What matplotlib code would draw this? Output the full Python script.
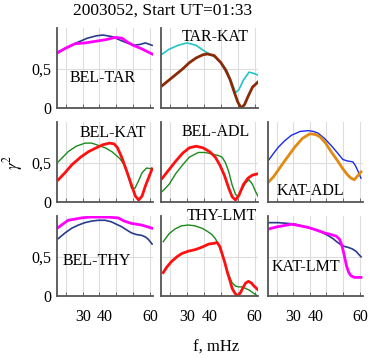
import numpy as np
import matplotlib.pyplot as plt

plt.rcParams['font.family'] = ['Liberation Serif', 'DejaVu Serif']
plt.rcParams['mathtext.fontset'] = 'stix'

# ---- data (f in mHz, gamma^2) ----
# BEL-TAR
beltar_navy_f = [19, 23, 27, 32, 36, 39, 43, 48, 52.5, 55.5, 58, 61]
beltar_navy_g = [0.72, 0.77, 0.83, 0.89, 0.92, 0.93, 0.91, 0.85, 0.80, 0.81, 0.83, 0.80]
beltar_mag_f = [19, 22, 26.5, 31, 35.5, 40, 44.5, 47.5, 50, 52.5, 56, 61]
beltar_mag_g = [0.71, 0.76, 0.82, 0.83, 0.85, 0.87, 0.90, 0.89, 0.84, 0.80, 0.76, 0.69]
# TAR-KAT
tarkat_cyan_f = [19, 22, 26, 30, 34, 38, 42, 45, 47.5, 49.5, 51.5, 53, 55, 57.5, 60, 61.6]
tarkat_cyan_g = [0.69, 0.75, 0.80, 0.83, 0.80, 0.72, 0.66, 0.58, 0.49, 0.35, 0.20, 0.24, 0.36, 0.46, 0.44, 0.42]
tarkat_brown_f = [19, 22, 25, 28, 31, 34, 37, 39, 42, 45, 47, 49, 51, 52.5, 54, 55.5, 57, 59, 62]
tarkat_brown_g = [0.29, 0.36, 0.43, 0.50, 0.58, 0.64, 0.68, 0.69, 0.67, 0.58, 0.49, 0.37, 0.20, 0.08, 0.005, 0.05, 0.15, 0.27, 0.35]
# BEL-KAT
belkat_green_f = [19, 23.4, 27, 31, 34, 37, 40, 43, 46.6, 48.5, 50, 51.8, 53.3, 55, 56.5, 58.5, 61]
belkat_green_g = [0.51, 0.64, 0.71, 0.75, 0.75, 0.72, 0.69, 0.64, 0.55, 0.47, 0.36, 0.17, 0.17, 0.27, 0.37, 0.43, 0.42]
belkat_red_f = [19, 22, 25, 29, 32.5, 36, 39, 42, 44, 45.5, 47.5, 49.5, 51.8, 53.5, 55, 56.5, 58, 59.5, 61]
belkat_red_g = [0.28, 0.37, 0.47, 0.57, 0.64, 0.69, 0.73, 0.75, 0.74, 0.69, 0.56, 0.40, 0.21, 0.07, 0.02, 0.07, 0.20, 0.31, 0.42]
# BEL-ADL
beladl_red_f = [19, 22, 25, 28, 31, 34, 37, 40, 42.5, 44.5, 46.5, 48.5, 50, 51.5, 53, 55, 57, 59, 62]
beladl_red_g = [0.30, 0.41, 0.52, 0.62, 0.69, 0.71, 0.69, 0.64, 0.57, 0.47, 0.34, 0.17, 0.06, 0.02, 0.08, 0.22, 0.30, 0.34, 0.36]
beladl_green_f = [19, 22, 25, 28, 31, 35, 38, 41, 44, 45.5, 47, 48.5, 50, 51.5, 52.5, 54, 56, 57.5, 59, 60.5, 62]
beladl_green_g = [0.13, 0.22, 0.36, 0.47, 0.57, 0.63, 0.63, 0.61, 0.59, 0.57, 0.50, 0.38, 0.21, 0.09, 0.07, 0.14, 0.24, 0.28, 0.22, 0.12, 0.04]
# KAT-ADL
katadl_blue_f = [18.7, 21, 23.2, 26, 29, 33, 36.6, 39, 41, 44, 47, 50, 52.3, 54.5, 56.8, 58, 59, 60.5]
katadl_blue_g = [0.53, 0.62, 0.70, 0.78, 0.85, 0.90, 0.91, 0.90, 0.88, 0.81, 0.72, 0.62, 0.54, 0.52, 0.51, 0.46, 0.40, 0.30]
katadl_orange_f = [18.7, 21, 24.7, 28, 30.6, 34, 37.4, 40, 42, 44.5, 47, 50, 52.3, 54.5, 56, 57.5, 59, 60.5]
katadl_orange_g = [0.25, 0.32, 0.47, 0.60, 0.70, 0.81, 0.87, 0.86, 0.83, 0.75, 0.64, 0.52, 0.42, 0.34, 0.30, 0.28, 0.33, 0.38]
# BEL-THY
belthy_mag_f = [19, 23.4, 29.4, 33, 36.9, 41, 45.8, 48.5, 51.8, 56.3, 61]
belthy_mag_g = [0.87, 0.96, 0.99, 1.0, 1.0, 1.0, 0.99, 0.95, 0.92, 0.90, 0.86]
belthy_navy_f = [19, 22, 25, 28, 30.9, 34, 36.9, 40, 42.8, 45, 47.3, 49.5, 51.8, 54, 56.3, 58, 59.3, 61]
belthy_navy_g = [0.73, 0.80, 0.86, 0.90, 0.93, 0.95, 0.96, 0.96, 0.94, 0.91, 0.88, 0.84, 0.80, 0.78, 0.77, 0.75, 0.72, 0.66]
# THY-LMT
thylmt_green_f = [19.4, 22, 24.6, 27.5, 30.6, 33.5, 36.6, 39, 41, 42.5, 44, 45.3, 46.3, 47.5, 48.5, 50, 51.5, 53, 54.5, 56, 57.5, 59.5, 61.6]
thylmt_green_g = [0.69, 0.79, 0.85, 0.89, 0.90, 0.89, 0.86, 0.82, 0.78, 0.73, 0.65, 0.55, 0.46, 0.35, 0.27, 0.17, 0.13, 0.12, 0.12, 0.10, 0.08, 0.04, 0.0]
thylmt_red_f = [19.4, 21, 23.1, 25.5, 27.6, 30.5, 33.6, 36.5, 39.6, 42, 43.3, 44.5, 45.5, 46.7, 47.8, 49, 50, 51, 52.2, 53.5, 55, 56, 57.2, 58.5, 59.7, 61.6]
thylmt_red_g = [0.30, 0.37, 0.44, 0.50, 0.54, 0.57, 0.59, 0.62, 0.66, 0.67, 0.68, 0.63, 0.54, 0.43, 0.31, 0.20, 0.10, 0.05, 0.005, 0.04, 0.12, 0.17, 0.19, 0.17, 0.13, 0.08]
# KAT-LMT
katlmt_navy_f = [18.7, 23, 27.7, 31, 35.1, 39, 42.6, 45.5, 47.8, 49.5, 51.5, 53, 54.5, 56.5, 58.2, 59.5, 60.5]
katlmt_navy_g = [0.93, 0.93, 0.92, 0.91, 0.88, 0.85, 0.81, 0.77, 0.73, 0.69, 0.65, 0.63, 0.62, 0.60, 0.57, 0.53, 0.50]
katlmt_mag_f = [18.7, 23, 29.1, 33, 36.6, 40, 44.1, 47, 49.3, 50.8, 51.8, 52.5, 53.3, 54, 55, 56, 57.5, 59, 60.5]
katlmt_mag_g = [0.85, 0.88, 0.91, 0.89, 0.87, 0.84, 0.80, 0.78, 0.76, 0.72, 0.65, 0.57, 0.47, 0.38, 0.30, 0.26, 0.24, 0.24, 0.24]

NAVY = '#283c8c'
MAG = '#ff00ff'
CYAN = '#22c4c8'
BROWN = '#8b2a06'
GREEN = '#1b8a1b'
RED = '#ff1010'
BLUE = '#1a2af0'
ORANGE = '#e08a10'
THICK = 2.0
THIN = 1.0

fig = plt.figure(figsize=(3.7, 3.58), dpi=100)

cols = [0.154, 0.435, 0.724]
widths = [0.2595, 0.262, 0.257]
rows = [0.697, 0.437, 0.172]
heights = [0.225, 0.222, 0.226]

gridpos = np.arange(22.4, 61, 7.5)


def make_ax(r, c):
    ax = fig.add_axes([cols[c], rows[r], widths[c], heights[r]])
    ax.set_xlim(18.4, 61.4)
    ax.set_ylim(0, 1.02)
    for s in ['top', 'right']:
        ax.spines[s].set_visible(False)
    for s in ['left', 'bottom']:
        ax.spines[s].set_color('#555555')
        ax.spines[s].set_linewidth(1.3)
    ax.set_xticks(gridpos, minor=True)
    ax.set_xticks([30, 40, 60])
    ax.set_yticks([0, 0.5])
    ax.grid(True, which='minor', axis='x', color='#dddddd', lw=0.8)
    ax.axhline(0.5, color='#dddddd', lw=0.8, zorder=0)
    ax.tick_params(which='major', length=0, labelsize=11.5, pad=4)
    ax.tick_params(which='minor', direction='in', length=3, color='#555555')
    ax.tick_params(axis='y', which='minor', length=0)
    if c == 0:
        ax.set_yticklabels(['0', '0,5'])
    else:
        ax.set_yticklabels([])
    if r == 2:
        ax.set_xticklabels(['30', '40', '60'])
        ax.tick_params(axis='x', pad=9)
    else:
        ax.set_xticklabels([])
    ax.set_axisbelow(True)
    return ax


def label(ax, txt, x, y):
    ax.text(x, y, txt, transform=ax.transAxes, ha='center', va='center', fontsize=11.5)


ax = make_ax(0, 0)
ax.plot(beltar_navy_f, beltar_navy_g, color=NAVY, lw=THIN + 0.2)
ax.plot(beltar_mag_f, beltar_mag_g, color=MAG, lw=THICK)
label(ax, 'BEL-TAR', 0.48, 0.38)

ax = make_ax(0, 1)
ax.plot(tarkat_cyan_f, tarkat_cyan_g, color=CYAN, lw=THIN + 0.2)
ax.plot(tarkat_brown_f, tarkat_brown_g, color=BROWN, lw=THICK)
label(ax, 'TAR-KAT', 0.56, 0.89)

ax = make_ax(1, 0)
ax.plot(belkat_green_f, belkat_green_g, color=GREEN, lw=THIN)
ax.plot(belkat_red_f, belkat_red_g, color=RED, lw=THICK)
label(ax, 'BEL-KAT', 0.58, 0.86)

ax = make_ax(1, 1)
ax.plot(beladl_green_f, beladl_green_g, color=GREEN, lw=THIN)
ax.plot(beladl_red_f, beladl_red_g, color=RED, lw=THICK)
label(ax, 'BEL-ADL', 0.56, 0.88)

ax = make_ax(1, 2)
ax.plot(katadl_blue_f, katadl_blue_g, color=BLUE, lw=THIN)
ax.plot(katadl_orange_f, katadl_orange_g, color=ORANGE, lw=THICK)
label(ax, 'KAT-ADL', 0.45, 0.13)

ax = make_ax(2, 0)
ax.plot(belthy_navy_f, belthy_navy_g, color=NAVY, lw=THIN + 0.2)
ax.plot(belthy_mag_f, belthy_mag_g, color=MAG, lw=THICK)
label(ax, 'BEL-THY', 0.41, 0.44)

ax = make_ax(2, 1)
ax.plot(thylmt_green_f, thylmt_green_g, color=GREEN, lw=THIN)
ax.plot(thylmt_red_f, thylmt_red_g, color=RED, lw=THICK)
label(ax, 'THY-LMT', 0.63, 0.99)

ax = make_ax(2, 2)
ax.plot(katlmt_navy_f, katlmt_navy_g, color=NAVY, lw=THIN + 0.2)
ax.plot(katlmt_mag_f, katlmt_mag_g, color=MAG, lw=THICK)
label(ax, 'KAT-LMT', 0.40, 0.36)

fig.text(0.439, 0.969, '2003052, Start UT=01:33', ha='center', va='center', fontsize=12.5)
fig.text(0.036, 0.547, r'$\gamma^2$', ha='center', va='center', rotation=90, fontsize=12)
fig.text(0.585, 0.028, 'f, mHz', ha='center', va='center', fontsize=12)

fig.savefig('out.png', dpi=100)
